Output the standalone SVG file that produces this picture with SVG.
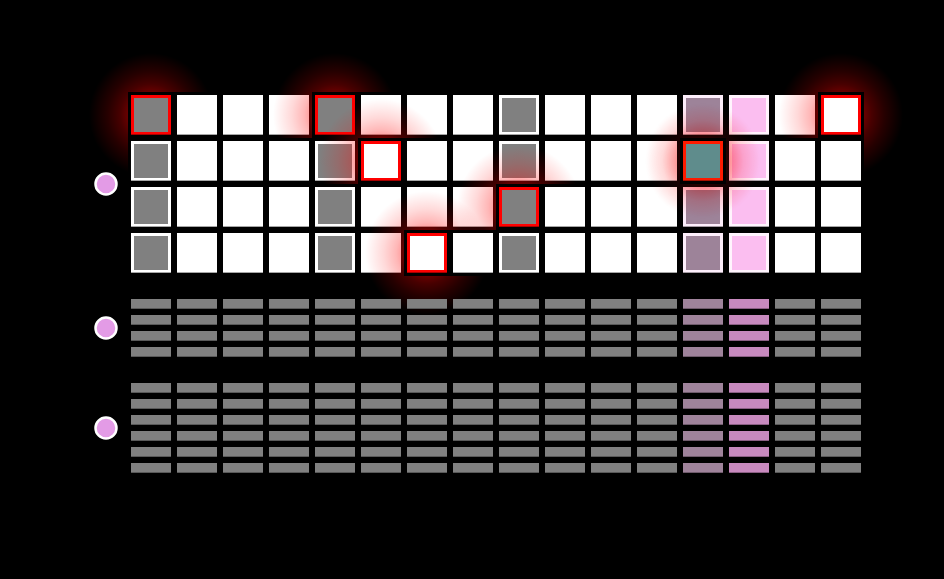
<svg xmlns="http://www.w3.org/2000/svg" xmlns:xlink="http://www.w3.org/1999/xlink" width="944" height="579" viewBox="0 0 944 579">
<style>
.w{fill:#fff;color:#fff}
.g{fill:#fff;color:#808080}
.hg{fill:#f00;color:#808080}
.hw{fill:#f00;color:#fff}
.t13{fill:#fdeefb;color:#9d8399}
.t14{fill:#fff4fd;color:#fbbef0}
.teal{fill:#ff1a00;color:#5f8c8c}
.glow{fill:url(#glow)}
.bn{fill:#808080}
.b13{fill:#9f839b}
.b14{fill:#c789be}
.dot{fill:#e39be6;stroke:#fff;stroke-width:2.5}
</style>
<defs>
<radialGradient id="glow" cx="0.5" cy="0.5" r="0.5">
<stop offset="0" stop-color="#f00" stop-opacity="0.7"/>
<stop offset="0.38" stop-color="#f00" stop-opacity="0.4"/>
<stop offset="0.5" stop-color="#f00" stop-opacity="0.28"/>
<stop offset="0.7" stop-color="#f00" stop-opacity="0.15"/>
<stop offset="0.88" stop-color="#f00" stop-opacity="0.06"/>
<stop offset="1" stop-color="#f00" stop-opacity="0"/>
</radialGradient>
<radialGradient id="glowM" cx="0.5" cy="0.5" r="0.5">
<stop offset="0" stop-color="#f00" stop-opacity="0.6"/>
<stop offset="0.45" stop-color="#f00" stop-opacity="0.32"/>
<stop offset="0.7" stop-color="#f00" stop-opacity="0.1"/>
<stop offset="1" stop-color="#f00" stop-opacity="0"/>
</radialGradient>
<g id="cell"><rect x="-3" y="-3" width="46" height="46" fill="#000"/><rect width="40" height="40"/><rect x="3" y="3" width="34" height="34" fill="currentColor"/><rect y="39" width="40" height="1" fill="#000" fill-opacity="0.35"/></g>
<g id="bar"><rect width="40" height="10"/><rect y="9" width="40" height="1" fill="#000" fill-opacity="0.3"/></g>
<g id="bars4"><use href="#bar" y="0"/><use href="#bar" y="16"/><use href="#bar" y="32"/><use href="#bar" y="48"/></g>
<g id="bars6"><use href="#bar" y="0"/><use href="#bar" y="16"/><use href="#bar" y="32"/><use href="#bar" y="48"/><use href="#bar" y="64"/><use href="#bar" y="80"/></g>
</defs>
<rect width="944" height="579" fill="#000"/>
<g id="connectors"/>
<g id="grid">
<g id="r1c1"><circle class="glow" cx="151" cy="115" r="62"/><use href="#cell" class="hg" x="131" y="95"/></g>
<g id="r1c2"><use href="#cell" class="w" x="177" y="95"/></g>
<g id="r1c3"><use href="#cell" class="w" x="223" y="95"/></g>
<g id="r1c4"><use href="#cell" class="w" x="269" y="95"/></g>
<g id="r1c5"><circle class="glow" cx="335" cy="115" r="62"/><use href="#cell" class="hg" x="315" y="95"/></g>
<g id="r1c6"><use href="#cell" class="w" x="361" y="95"/></g>
<g id="r1c7"><use href="#cell" class="w" x="407" y="95"/></g>
<g id="r1c8"><use href="#cell" class="w" x="453" y="95"/></g>
<g id="r1c9"><use href="#cell" class="g" x="499" y="95"/></g>
<g id="r1c10"><use href="#cell" class="w" x="545" y="95"/></g>
<g id="r1c11"><use href="#cell" class="w" x="591" y="95"/></g>
<g id="r1c12"><use href="#cell" class="w" x="637" y="95"/></g>
<g id="r1c13"><use href="#cell" class="t13" x="683" y="95"/></g>
<g id="r1c14"><use href="#cell" class="t14" x="729" y="95"/></g>
<g id="r1c15"><use href="#cell" class="w" x="775" y="95"/></g>
<g id="r1c16"><circle class="glow" cx="841" cy="115" r="62"/><use href="#cell" class="hw" x="821" y="95"/></g>

<g id="r2c1"><use href="#cell" class="g" x="131" y="141"/></g>
<g id="r2c2"><use href="#cell" class="w" x="177" y="141"/></g>
<g id="r2c3"><use href="#cell" class="w" x="223" y="141"/></g>
<g id="r2c4"><use href="#cell" class="w" x="269" y="141"/></g>
<g id="r2c5"><use href="#cell" class="g" x="315" y="141"/></g>
<g id="r2c6"><circle class="glow" cx="381" cy="161" r="62"/><use href="#cell" class="hw" x="361" y="141"/></g>
<g id="r2c7"><use href="#cell" class="w" x="407" y="141"/></g>
<g id="r2c8"><use href="#cell" class="w" x="453" y="141"/></g>
<g id="r2c9"><use href="#cell" class="g" x="499" y="141"/></g>
<g id="r2c10"><use href="#cell" class="w" x="545" y="141"/></g>
<g id="r2c11"><use href="#cell" class="w" x="591" y="141"/></g>
<g id="r2c12"><use href="#cell" class="w" x="637" y="141"/></g>
<g id="r2c14"><use href="#cell" class="t14" x="729" y="141"/></g>
<g id="r2c15"><use href="#cell" class="w" x="775" y="141"/></g>
<g id="r2c16"><use href="#cell" class="w" x="821" y="141"/></g>

<g id="r3c1"><use href="#cell" class="g" x="131" y="187"/></g>
<g id="r3c2"><use href="#cell" class="w" x="177" y="187"/></g>
<g id="r3c3"><use href="#cell" class="w" x="223" y="187"/></g>
<g id="r3c4"><use href="#cell" class="w" x="269" y="187"/></g>
<g id="r3c5"><use href="#cell" class="g" x="315" y="187"/></g>
<g id="r3c6"><use href="#cell" class="w" x="361" y="187"/></g>
<g id="r3c7"><use href="#cell" class="w" x="407" y="187"/></g>
<g id="r3c8"><use href="#cell" class="w" x="453" y="187"/></g>
<g id="r3c9"><circle class="glow" cx="519" cy="207" r="62"/><use href="#cell" class="hg" x="499" y="187"/></g>
<g id="r3c10"><use href="#cell" class="w" x="545" y="187"/></g>
<g id="r3c11"><use href="#cell" class="w" x="591" y="187"/></g>
<g id="r3c12"><use href="#cell" class="w" x="637" y="187"/></g>
<g id="r3c13"><use href="#cell" class="t13" x="683" y="187"/></g>
<g id="r3c14"><use href="#cell" class="t14" x="729" y="187"/></g>
<g id="r3c15"><use href="#cell" class="w" x="775" y="187"/></g>
<g id="r3c16"><use href="#cell" class="w" x="821" y="187"/></g>

<g id="r4c1"><use href="#cell" class="g" x="131" y="233"/></g>
<g id="r4c2"><use href="#cell" class="w" x="177" y="233"/></g>
<g id="r4c3"><use href="#cell" class="w" x="223" y="233"/></g>
<g id="r4c4"><use href="#cell" class="w" x="269" y="233"/></g>
<g id="r4c5"><use href="#cell" class="g" x="315" y="233"/></g>
<g id="r4c6"><use href="#cell" class="w" x="361" y="233"/></g>
<g id="r4c7"><circle class="glow" cx="427" cy="253" r="62"/><use href="#cell" class="hw" x="407" y="233"/></g>
<g id="r4c8"><use href="#cell" class="w" x="453" y="233"/></g>
<g id="r4c9"><use href="#cell" class="g" x="499" y="233"/></g>
<g id="r4c10"><use href="#cell" class="w" x="545" y="233"/></g>
<g id="r4c11"><use href="#cell" class="w" x="591" y="233"/></g>
<g id="r4c12"><use href="#cell" class="w" x="637" y="233"/></g>
<g id="r4c13"><use href="#cell" class="t13" x="683" y="233"/></g>
<g id="r4c14"><use href="#cell" class="t14" x="729" y="233"/></g>
<g id="r4c15"><use href="#cell" class="w" x="775" y="233"/></g>
<g id="r4c16"><use href="#cell" class="w" x="821" y="233"/></g>

<g id="r2c13"><circle class="glow" cx="703" cy="161" r="56" opacity="0.4"/><circle cx="703" cy="161" r="58" fill="url(#glowM)" style="mix-blend-mode:multiply"/><use href="#cell" class="teal" x="683" y="141"/></g>
</g>

<g id="bars-a">
<use href="#bars4" class="bn" x="131" y="299"/>
<use href="#bars4" class="bn" x="177" y="299"/>
<use href="#bars4" class="bn" x="223" y="299"/>
<use href="#bars4" class="bn" x="269" y="299"/>
<use href="#bars4" class="bn" x="315" y="299"/>
<use href="#bars4" class="bn" x="361" y="299"/>
<use href="#bars4" class="bn" x="407" y="299"/>
<use href="#bars4" class="bn" x="453" y="299"/>
<use href="#bars4" class="bn" x="499" y="299"/>
<use href="#bars4" class="bn" x="545" y="299"/>
<use href="#bars4" class="bn" x="591" y="299"/>
<use href="#bars4" class="bn" x="637" y="299"/>
<use href="#bars4" class="b13" x="683" y="299"/>
<use href="#bars4" class="b14" x="729" y="299"/>
<use href="#bars4" class="bn" x="775" y="299"/>
<use href="#bars4" class="bn" x="821" y="299"/>
</g>
<g id="bars-b">
<use href="#bars6" class="bn" x="131" y="383"/>
<use href="#bars6" class="bn" x="177" y="383"/>
<use href="#bars6" class="bn" x="223" y="383"/>
<use href="#bars6" class="bn" x="269" y="383"/>
<use href="#bars6" class="bn" x="315" y="383"/>
<use href="#bars6" class="bn" x="361" y="383"/>
<use href="#bars6" class="bn" x="407" y="383"/>
<use href="#bars6" class="bn" x="453" y="383"/>
<use href="#bars6" class="bn" x="499" y="383"/>
<use href="#bars6" class="bn" x="545" y="383"/>
<use href="#bars6" class="bn" x="591" y="383"/>
<use href="#bars6" class="bn" x="637" y="383"/>
<use href="#bars6" class="b13" x="683" y="383"/>
<use href="#bars6" class="b14" x="729" y="383"/>
<use href="#bars6" class="bn" x="775" y="383"/>
<use href="#bars6" class="bn" x="821" y="383"/>
</g>

<g id="dot1"><circle class="dot" cx="106" cy="184" r="10.5"/></g>
<g id="dot2"><circle class="dot" cx="106" cy="328" r="10.5"/></g>
<g id="dot3"><circle class="dot" cx="106" cy="428" r="10.5"/></g>
</svg>
